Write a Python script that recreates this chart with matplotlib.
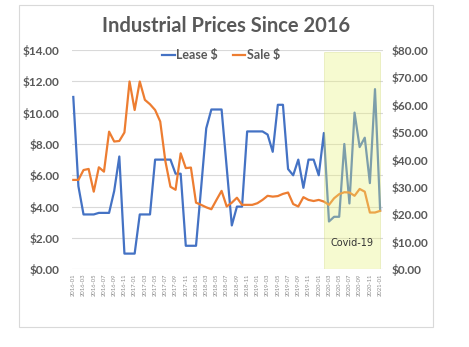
import matplotlib
matplotlib.use('Agg')
import matplotlib.pyplot as plt
from matplotlib.patches import Rectangle

# monthly 2016-01 .. 2021-01
months = ['%d-%02d' % (2016 + i // 12, i % 12 + 1) for i in range(61)]
lease = [11.0, 5.3, 3.5, 3.5, 3.5, 3.6, 3.6, 3.6, 5.0, 7.2,
         1.0, 1.0, 1.0, 3.5, 3.5, 3.5, 7.0, 7.0, 7.0, 7.0,
         6.1, 6.1, 1.5, 1.5, 1.5, 5.2, 9.0, 10.2, 10.2, 10.2,
         6.5, 2.8, 4.0, 4.0, 8.8, 8.8, 8.8, 8.8, 8.6, 7.5,
         10.5, 10.5, 6.4, 6.0, 7.0, 5.2, 7.0, 7.0, 6.0, 8.7,
         3.05, 3.35, 3.35, 8.0, 4.2, 10.0, 7.8, 8.4, 5.5, 11.5, 3.8]
sale = [32.6, 32.6, 36.2, 36.6, 28.3, 37.2, 35.6, 50.2, 46.6, 46.8,
        49.9, 68.5, 58.1, 68.5, 61.8, 60.2, 58.1, 53.9, 39.5, 30.1,
        29.0, 42.3, 36.9, 37.1, 24.3, 23.5, 22.6, 21.9, 25.3, 28.6,
        22.9, 24.3, 26.1, 23.5, 23.5, 23.5, 24.1, 25.3, 26.8, 26.5,
        26.7, 27.5, 28.0, 23.8, 22.9, 26.3, 25.3, 24.9, 25.3, 24.7,
        23.5, 25.9, 27.4, 28.1, 28.0, 26.8, 29.3, 28.3, 20.7, 20.7, 21.3]
covid_start, covid_end = 49, 60

plt.rcParams['font.family'] = ['Lato', 'DejaVu Sans']
gray = '#595959'

fig = plt.figure(figsize=(4.69, 3.47), dpi=100)
ax = fig.add_axes([0.153, 0.224, 0.664, 0.632])
ax2 = ax.twinx()

x = list(range(len(months)))
l1, = ax.plot(x, lease, color='#4472C4', lw=1.6, label='Lease $')
l2, = ax2.plot(x, sale, color='#ED7D31', lw=1.6, label='Sale $')

ax.set_ylim(0, 14)
ax2.set_ylim(0, 80)
ax.set_xlim(-0.3, 60.6)
ax.set_yticks(range(0, 15, 2))
ax2.set_yticks(range(0, 81, 10))
ax.set_yticklabels(['$%.2f' % v for v in range(0, 15, 2)])
ax2.set_yticklabels(['$%.2f' % v for v in range(0, 81, 10)])
for a, p in ((ax, 9), (ax2, 6)):
    for s in a.spines.values():
        s.set_visible(False)
    a.tick_params(axis='y', length=0, labelsize=8.5, labelcolor=gray, pad=p)
    for t in a.get_yticklabels():
        t.set_fontweight('bold')
ax.grid(axis='y', color='#D9D9D9', lw=0.8)
ax.set_axisbelow(True)

ax.set_xticks(x[::2])
ax.set_xticklabels(months[::2], rotation=90, fontsize=4.2, color='#8c8c8c')
ax.tick_params(axis='x', length=0, pad=3)

# covid highlight on top of lines
ax2.add_patch(Rectangle((covid_start, 0), covid_end - covid_start, 13.9 / 14 * 80,
                        facecolor='#E8F27A', alpha=0.35, edgecolor='#C8D26A',
                        lw=0.6, zorder=5))
ax2.text((covid_start + covid_end) / 2, 9.5, 'Covid-19', ha='center', va='center',
         fontsize=7, color='#333333', family='DejaVu Sans', zorder=6)

ax.legend([l1, l2], ['Lease $', 'Sale $'], loc='center', bbox_to_anchor=(0.48, 0.975),
          ncol=2, frameon=False, handlelength=1.0, handletextpad=0.1, columnspacing=1.2,
          prop={'size': 9, 'weight': 'bold'}, labelcolor=gray)

fig.text(0.483, 0.925, 'Industrial Prices Since 2016', ha='center', va='center',
         fontsize=14.5, fontweight='bold', color=gray)

fig.patches.append(Rectangle((19 / 469, 1 - 327 / 347), 414 / 469, 322 / 347,
                             transform=fig.transFigure, fill=False,
                             edgecolor='#D9D9D9', lw=0.8))

fig.savefig('out.png', dpi=100)
